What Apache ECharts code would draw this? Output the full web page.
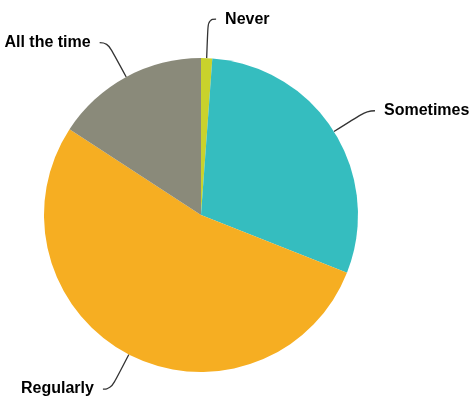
<!DOCTYPE html>
<html><head><meta charset="utf-8">
<script src="https://cdn.jsdelivr.net/npm/echarts@6/dist/echarts.min.js"></script>
<style>html,body{margin:0;padding:0;background:#fff}#c{width:470px;height:396px}</style>
</head><body><div id="c"></div>
<script>
var categories = ['Never', 'Sometimes', 'Regularly', 'All the time'];
var values = [1.15, 29.85, 53.2, 15.8];
var colors = ['#c9d22c', '#35bdbf', '#f6ae22', '#8a8a7a'];

var chart = echarts.init(document.getElementById('c'));
chart.setOption({
  animation: false,
  series: [{
    type: 'pie',
    center: [201, 215],
    radius: 157,
    startAngle: 90,
    clockwise: true,
    avoidLabelOverlap: false,
    label: {
      show: true,
      position: 'outside',
      color: '#000',
      fontFamily: 'Liberation Sans, Arial, sans-serif',
      fontWeight: 'bold',
      fontSize: 16,
      distanceToLabelLine: 9
    },
    labelLine: {
      show: true,
      length: 39,
      length2: 8,
      smooth: 0.5,
      lineStyle: { color: '#333', width: 1.3 }
    },
    itemStyle: { borderWidth: 0 },
    data: categories.map(function (c, i) {
      return { name: c, value: values[i], itemStyle: { color: colors[i] } };
    })
  }]
});
</script></body></html>
